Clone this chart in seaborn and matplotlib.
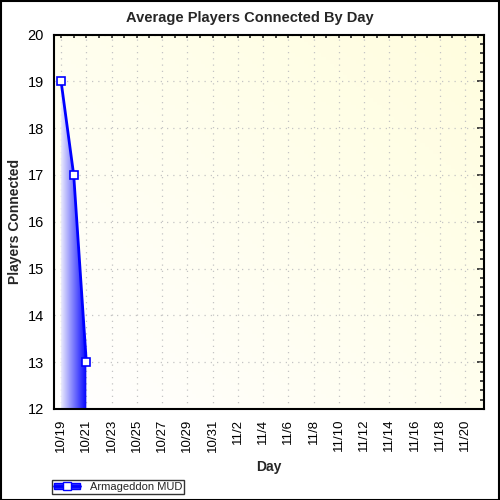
import datetime as dt
import numpy as np
import matplotlib
matplotlib.use("Agg")
import matplotlib.pyplot as plt
import matplotlib.dates as mdates
from matplotlib.ticker import MultipleLocator, FuncFormatter
from matplotlib.lines import Line2D
from matplotlib.patches import Rectangle
import seaborn as sns

# data
days = ["2008-10-19", "2008-10-20", "2008-10-21"]
players = [19, 17, 13]
series_name = "Armageddon MUD"
first_day = "2008-10-19"
last_day = "2008-11-21"

sns.set_style("white")
plt.rcParams["font.family"] = ["Liberation Sans", "DejaVu Sans"]

x = mdates.date2num([dt.datetime.strptime(d, "%Y-%m-%d") for d in days])
x0 = mdates.date2num(dt.datetime.strptime(first_day, "%Y-%m-%d"))
x1 = mdates.date2num(dt.datetime.strptime(last_day, "%Y-%m-%d"))

fig = plt.figure(figsize=(5, 5), dpi=100)
ax = fig.add_axes([0.107, 0.182, 0.861, 0.749])
ax.set_xlim(x0 - 0.6, x1 + 0.5)
ax.set_ylim(12, 20)

# pale yellow gradient background
gy, gx = np.mgrid[0:1:100j, 0:1:100j]
t = np.clip(0.5 * gx + 0.5 * gy, 0, 1)
bg = np.zeros((100, 100, 3))
bg[..., 0] = 1.0
bg[..., 1] = 1.0 - 0.005 * t
bg[..., 2] = 1.0 - 0.13 * t
ax.imshow(bg, extent=[0, 1, 0, 1], transform=ax.transAxes, origin="lower",
          aspect="auto", zorder=0)

ax.grid(True, color="#c4c4c4", linestyle=(0, (1, 4)), linewidth=0.9)
ax.set_axisbelow(True)

# gradient area under the line
poly = ax.fill_between(x, players, 12, color="none", lw=0)
grad = np.linspace(0, 1, 256).reshape(1, -1)
cmap = matplotlib.colors.LinearSegmentedColormap.from_list("bl", ["#ececfc", "#0000ff"])
im = ax.imshow(grad, extent=[x[0], x[-1], 12, max(players)], aspect="auto",
               cmap=cmap, zorder=2)
im.set_clip_path(poly.get_paths()[0], transform=ax.transData)

sns.lineplot(x=x, y=players, ax=ax, color="#0000ff", linewidth=2, marker="s",
             markersize=6, markerfacecolor="white", markeredgecolor="#0000ff",
             markeredgewidth=1.2, zorder=3)

ax.set_xticks(np.arange(x0, x1 + 0.1, 2))
ax.set_xticks(np.arange(x0 + 1, x1 + 0.1, 2), minor=True)
ax.xaxis.set_major_formatter(FuncFormatter(
    lambda v, p: f"{mdates.num2date(v).month}/{mdates.num2date(v).day}"))
ax.yaxis.set_major_locator(MultipleLocator(1))
ax.yaxis.set_minor_locator(MultipleLocator(0.2))

for s in ax.spines.values():
    s.set_color("black")
    s.set_linewidth(1.5)

ax.tick_params(axis="both", which="major", direction="inout", length=8, width=1.2,
               labelsize=10.5, colors="black", pad=3)
ax.tick_params(axis="both", which="minor", direction="inout", length=5, width=1.2)
ax.tick_params(axis="x", which="major", labelrotation=90, labelsize=9.5)

# inner ticks on top and right
top = ax.secondary_xaxis("top")
top.set_xticks(np.arange(x0, x1 + 0.1, 1))
top.tick_params(direction="in", length=3, width=1.2, labeltop=False)
top.spines["top"].set_visible(False)
right = ax.secondary_yaxis("right")
right.yaxis.set_major_locator(MultipleLocator(1))
right.yaxis.set_minor_locator(MultipleLocator(0.2))
right.tick_params(which="major", direction="in", length=5, width=1.2, labelright=False)
right.tick_params(which="minor", direction="in", length=3, width=1.2)
right.spines["right"].set_visible(False)

fig.text(0.5, 0.964, "Average Players Connected By Day", fontsize=10.5,
         fontweight="bold", ha="center", va="center")
ax.set_ylabel("Players Connected", fontsize=10, fontweight="bold")
ax.yaxis.set_label_coords(-0.073, 0.5)
ax.set_xlabel("Day", fontsize=10, fontweight="bold", labelpad=6)

# legend
h_patch = Rectangle((0, 0), 1, 1, facecolor="#3030ff", edgecolor="#0000ff")
h_line = Line2D([], [], color="#0000ff", lw=2, marker="s", markersize=6,
                markerfacecolor="white", markeredgecolor="#0000ff")
leg = fig.legend([(h_patch, h_line)], [series_name], loc="lower left",
                 bbox_to_anchor=(0.104, 0.013), fontsize=8, frameon=True,
                 fancybox=False, borderpad=0.15, handlelength=2.4, handleheight=0.5,
                 handletextpad=0.9, borderaxespad=0)
leg.get_frame().set_edgecolor("black")
leg.get_frame().set_linewidth(1)

fig.patches.append(Rectangle((0.001, 0.001), 0.997, 0.997, transform=fig.transFigure,
                             fill=False, edgecolor="black", linewidth=1.5))

fig.savefig("out.png", dpi=100)
